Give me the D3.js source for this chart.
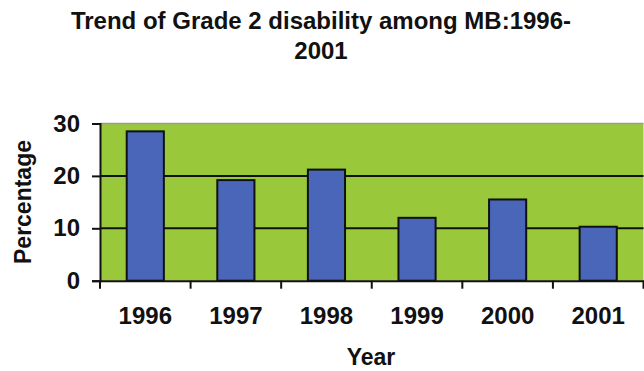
<!DOCTYPE html>
<html>
<head>
<meta charset="utf-8">
<script src="https://cdn.jsdelivr.net/npm/d3@7"></script>
<style>
  html, body { margin: 0; padding: 0; background: #fff; }
  svg { display: block; font-family: "Liberation Sans", Arial, sans-serif; }
</style>
</head>
<body>
<svg id="chart" width="644" height="371"></svg>
<script>
// Grade 2 disability trend, percentage per year
const years = ["1996", "1997", "1998", "1999", "2000", "2001"];
const percentages = [28.5, 19.2, 21.2, 12.0, 15.5, 10.3];
const yTicks = [0, 10, 20, 30];

const svg = d3.select("#chart");
const plot = { left: 100, right: 643.5, top: 123.5, bottom: 280.7 };

const x = d3.scaleBand()
  .domain(years)
  .range([plot.left, plot.right])
  .paddingInner(0.59)
  .paddingOuter(0.295);

const y = d3.scaleLinear()
  .domain([0, 30])
  .range([plot.bottom, plot.top]);

// plot background
svg.append("rect")
  .attr("x", plot.left)
  .attr("y", plot.top)
  .attr("width", plot.right - plot.left)
  .attr("height", plot.bottom - plot.top)
  .attr("fill", "#99c93a");

// top border of plot area
svg.append("line")
  .attr("x1", plot.left).attr("x2", plot.right)
  .attr("y1", plot.top).attr("y2", plot.top)
  .attr("stroke", "#9a9a9a").attr("stroke-width", 1.5);

// horizontal gridlines
svg.append("g")
  .selectAll("line")
  .data(yTicks.filter(t => t > 0 && t < 30))
  .join("line")
  .attr("x1", plot.left).attr("x2", plot.right)
  .attr("y1", d => y(d)).attr("y2", d => y(d))
  .attr("stroke", "#111").attr("stroke-width", 2);

// bars
svg.append("g")
  .selectAll("rect")
  .data(years.map((yr, i) => ({ yr, v: percentages[i] })))
  .join("rect")
  .attr("x", d => x(d.yr))
  .attr("y", d => y(d.v))
  .attr("width", x.bandwidth())
  .attr("height", d => y(0) - y(d.v))
  .attr("fill", "#4a66b8")
  .attr("stroke", "#111")
  .attr("stroke-width", 2);

// y axis
const yAxis = svg.append("g")
  .attr("transform", `translate(${plot.left},0)`)
  .call(d3.axisLeft(y).tickValues(yTicks).tickSize(8).tickPadding(12));
yAxis.select(".domain").attr("stroke", "#111").attr("stroke-width", 2);
yAxis.selectAll(".tick line").attr("stroke", "#111").attr("stroke-width", 2);
yAxis.selectAll(".tick text")
  .attr("fill", "#111")
  .style("font-size", "24px")
  .style("font-weight", "bold");

// x axis: labels centred in each category, ticks on category boundaries
const xAxis = svg.append("g")
  .attr("transform", `translate(0,${plot.bottom})`)
  .call(d3.axisBottom(x).tickSize(0).tickPadding(26));
xAxis.select(".domain").attr("stroke", "#111").attr("stroke-width", 2);
xAxis.selectAll(".tick text")
  .attr("fill", "#111")
  .style("font-size", "24px")
  .style("font-weight", "bold");

const boundaries = d3.range(years.length + 1).map(i => plot.left + i * x.step());
svg.append("g")
  .selectAll("line")
  .data(boundaries)
  .join("line")
  .attr("x1", d => d).attr("x2", d => d)
  .attr("y1", plot.bottom).attr("y2", plot.bottom + 8)
  .attr("stroke", "#111").attr("stroke-width", 2);

// axis titles
svg.append("text")
  .attr("x", 371).attr("y", 365)
  .attr("text-anchor", "middle")
  .style("font-size", "23px").style("font-weight", "bold")
  .attr("fill", "#111")
  .text("Year");

svg.append("text")
  .attr("transform", "translate(31,202) rotate(-90)")
  .attr("text-anchor", "middle")
  .style("font-size", "23px").style("font-weight", "bold")
  .attr("fill", "#111")
  .text("Percentage");

// chart title
const title = svg.append("text")
  .attr("text-anchor", "middle")
  .style("font-size", "24px").style("font-weight", "bold")
  .attr("fill", "#111");
title.append("tspan").attr("x", 321).attr("y", 29).text("Trend of Grade 2 disability among MB:1996-");
title.append("tspan").attr("x", 321).attr("y", 59).text("2001");
</script>
</body>
</html>
